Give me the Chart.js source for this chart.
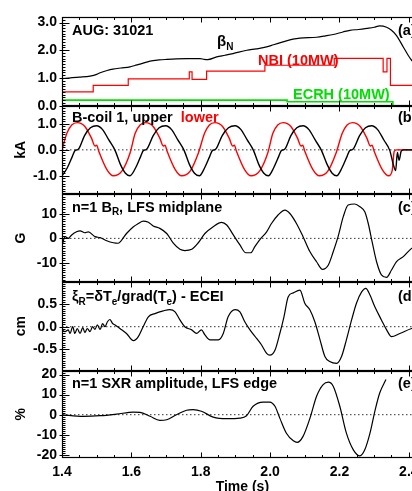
<!DOCTYPE html>
<html>
<head>
<meta charset="utf-8">
<script src="https://cdn.jsdelivr.net/npm/chart.js@4/dist/chart.umd.min.js"></script>
<style>
  html, body { margin: 0; padding: 0; background: #fff; }
  #wrap { position: relative; width: 412px; height: 491px; overflow: hidden; background: #fff; }
  #wrap canvas { position: absolute; left: 0; top: 0; }
</style>
</head>
<body>
<div id="wrap">
  <canvas id="ca" width="440" height="496"></canvas>
  <canvas id="cb" width="440" height="496"></canvas>
  <canvas id="cc" width="440" height="496"></canvas>
  <canvas id="cd" width="440" height="496"></canvas>
  <canvas id="ce" width="440" height="496"></canvas>
</div>
<script>
// ---------------- DATA ----------------
const xMajorTicks = [1.4, 1.6, 1.8, 2.0, 2.2, 2.4];
const xTickLabels = ['1.4', '1.6', '1.8', '2.0', '2.2', '2.4'];

// Panel (a): beta_N, NBI power, ECRH power (10 MW units)
const betaT = [1.400,1.420,1.450,1.481,1.500,1.510,1.530,1.547,1.570,1.596,1.610,1.625,1.654,1.680,1.702,1.730,1.760,1.798,1.810,1.820,1.846,1.870,1.893,1.933,1.960,1.990,2.010,2.037,2.066,2.086,2.134,2.160,2.182,2.210,2.230,2.255,2.279,2.300,2.316,2.336,2.350,2.364,2.384,2.398,2.408,2.425];
const betaV = [0.98,1.00,1.03,1.07,1.13,1.19,1.27,1.32,1.36,1.40,1.45,1.50,1.61,1.65,1.67,1.69,1.70,1.70,1.67,1.66,1.76,1.82,1.88,2.00,2.05,2.12,2.20,2.30,2.40,2.44,2.47,2.52,2.57,2.66,2.72,2.75,2.79,2.83,2.88,2.83,2.72,2.54,2.12,1.82,1.64,1.45];
const nbiT = [1.400,1.490,1.591,1.767,1.775,1.817,1.985,2.185,2.326,2.337,2.347,2.440];
const nbiV = [0.50,0.73,0.97,1.22,0.95,1.25,1.46,1.71,1.22,1.71,0.73,0.73];
const ecrhT = [1.400,2.049,2.354,2.440];
const ecrhV = [0.20,0.14,0.00,0.00];
const aTicks = [0, 1, 2, 3];
const aTickLabels = ['0.0', '1.0', '2.0', '3.0'];

// Panel (b): B-coil currents (kA)
const coilUpT = [1.400,1.415,1.430,1.438,1.444,1.450,1.465,1.482,1.500,1.517,1.535,1.553,1.568,1.583,1.596,1.612,1.627,1.635,1.641,1.647,1.663,1.680,1.699,1.716,1.734,1.752,1.767,1.782,1.796,1.811,1.826,1.834,1.840,1.846,1.862,1.880,1.899,1.916,1.934,1.952,1.967,1.982,1.995,2.010,2.025,2.033,2.039,2.045,2.060,2.077,2.095,2.112,2.130,2.148,2.164,2.179,2.192,2.207,2.222,2.230,2.236,2.242,2.258,2.275,2.293,2.310,2.328,2.345,2.355,2.362,2.367,2.372,2.378,2.385,2.440];
const coilUpV = [-1.00,-0.70,-0.25,-0.02,0.00,0.08,0.55,0.85,0.93,0.78,0.38,-0.02,-0.55,-0.90,-1.00,-0.70,-0.25,-0.02,0.00,0.08,0.55,0.85,0.93,0.78,0.38,-0.02,-0.55,-0.90,-1.00,-0.70,-0.25,-0.02,0.00,0.08,0.55,0.85,0.93,0.78,0.38,-0.02,-0.55,-0.90,-1.00,-0.70,-0.25,-0.02,0.00,0.08,0.55,0.85,0.93,0.78,0.38,-0.02,-0.55,-0.90,-1.00,-0.70,-0.25,-0.02,0.00,0.08,0.55,0.85,0.93,0.78,0.38,-0.02,-0.55,-0.80,-0.10,-0.40,-0.05,0.00,0.00];
const coilLowT = [1.400,1.414,1.428,1.444,1.466,1.485,1.495,1.500,1.506,1.529,1.548,1.572,1.596,1.611,1.625,1.641,1.663,1.682,1.692,1.697,1.703,1.726,1.745,1.769,1.793,1.811,1.825,1.841,1.863,1.882,1.892,1.897,1.903,1.926,1.945,1.969,1.993,2.008,2.022,2.038,2.060,2.079,2.089,2.094,2.100,2.123,2.142,2.166,2.190,2.208,2.222,2.238,2.260,2.279,2.289,2.294,2.300,2.323,2.342,2.352,2.358,2.365,2.440];
const coilLowV = [0.00,0.64,0.96,1.05,0.90,0.45,0.15,0.18,-0.05,-0.75,-1.00,-0.83,-0.13,0.64,0.96,1.05,0.90,0.45,0.15,0.18,-0.05,-0.75,-1.00,-0.83,-0.13,0.64,0.96,1.05,0.90,0.45,0.15,0.18,-0.05,-0.75,-1.00,-0.83,-0.13,0.64,0.96,1.05,0.90,0.45,0.15,0.18,-0.05,-0.75,-1.00,-0.83,-0.13,0.64,0.96,1.05,0.90,0.45,0.15,0.18,-0.05,-0.75,-1.00,-0.80,-0.05,0.00,0.00];
const bTicks = [-1, 0, 1];
const bTickLabels = ['-1.0', '0.0', '1.0'];

// Panel (c): n=1 B_R (G)
const brT = [1.400,1.409,1.418,1.428,1.442,1.452,1.466,1.476,1.495,1.510,1.529,1.548,1.562,1.572,1.586,1.606,1.620,1.634,1.649,1.663,1.682,1.702,1.721,1.740,1.754,1.774,1.793,1.812,1.836,1.860,1.875,1.894,1.913,1.930,1.944,1.956,1.971,1.990,2.004,2.023,2.043,2.057,2.076,2.095,2.115,2.134,2.151,2.168,2.182,2.196,2.211,2.225,2.244,2.259,2.273,2.283,2.295,2.307,2.321,2.336,2.350,2.364,2.384,2.408,2.440];
const brV = [-3.0,0.7,0.0,1.4,2.7,3.1,2.3,2.7,0.7,0.3,-1.0,-1.8,-2.0,-0.7,2.0,4.8,6.1,7.1,6.6,5.1,4.1,2.0,-2.0,-4.5,-5.0,-4.5,-1.8,2.0,4.8,6.6,5.5,1.4,-2.7,-5.9,-5.9,-3.4,-0.4,2.7,6.1,9.6,11.6,10.2,6.1,0.7,-5.5,-9.6,-12.7,-10.9,-5.5,0.7,8.9,13.7,14.1,13.0,10.9,6.1,-2.0,-9.6,-15.0,-16.0,-13.0,-9.6,-7.5,-4.1,-2.0];
const cTicks = [-10, 0, 10];
const cTickLabels = ['-10', '0', '10'];

// Panel (d): xi_R from ECEI (cm)
const xiT = [1.399,1.409,1.418,1.423,1.431,1.437,1.444,1.452,1.460,1.466,1.473,1.481,1.488,1.495,1.502,1.510,1.517,1.524,1.531,1.538,1.546,1.553,1.567,1.586,1.606,1.620,1.634,1.649,1.668,1.692,1.711,1.726,1.740,1.754,1.774,1.788,1.802,1.812,1.827,1.851,1.865,1.879,1.899,1.913,1.927,1.942,1.961,1.975,1.990,1.999,2.014,2.028,2.040,2.052,2.067,2.086,2.100,2.115,2.129,2.144,2.158,2.172,2.192,2.206,2.220,2.235,2.249,2.264,2.276,2.288,2.302,2.321,2.336,2.350,2.374,2.408,2.440];
const xiV = [-0.07,-0.11,-0.07,-0.15,0.00,-0.15,-0.04,-0.15,-0.02,-0.13,-0.04,-0.11,0.00,-0.06,0.04,-0.06,0.07,0.00,0.11,0.16,0.07,0.04,-0.04,-0.15,-0.31,-0.22,0.00,0.22,0.29,0.35,0.38,0.33,0.15,0.00,-0.07,-0.15,-0.07,-0.18,-0.29,-0.29,-0.15,0.22,0.38,0.33,0.11,-0.07,-0.26,-0.40,-0.59,-0.63,-0.52,-0.15,0.22,0.66,0.75,0.81,0.52,0.37,0.11,-0.29,-0.66,-0.77,-0.81,-0.66,-0.29,0.15,0.52,0.77,0.85,0.70,0.44,0.15,-0.07,-0.22,-0.15,-0.04,0.02];
const dTicks = [-0.5, 0, 0.5];
const dTickLabels = ['-0.5', '0.0', '0.5'];

// Panel (e): n=1 SXR amplitude (%)
const sxrT = [1.399,1.461,1.510,1.558,1.606,1.625,1.654,1.682,1.702,1.730,1.759,1.778,1.802,1.836,1.875,1.913,1.932,1.951,1.980,1.999,2.014,2.028,2.047,2.067,2.078,2.095,2.115,2.134,2.153,2.168,2.182,2.201,2.220,2.240,2.259,2.273,2.288,2.302,2.316,2.334];
const sxrV = [0.0,-0.8,-0.5,0.3,1.3,1.2,-0.8,-2.8,-2.5,0.0,2.2,2.5,1.7,-1.2,-2.0,-1.7,-0.5,4.2,6.3,6.3,4.2,-1.7,-9.2,-13.0,-13.8,-10.8,-1.7,9.2,15.0,16.2,14.2,4.2,-9.2,-17.5,-20.5,-17.5,-9.2,1.7,10.8,17.5];
const eTicks = [-20, -10, 0, 10, 20];
const eTickLabels = ['-20', '-10', '0', '10', '20'];

// ---------------- HELPERS ----------------
const FAM = '"Liberation Sans", Arial, Helvetica, sans-serif';
const pts = (t, v) => t.map((x, i) => ({x, y: v[i]}));
const zeroLine = () => ({data: pts([1.4, 2.44], [0, 0]), borderColor: '#333', borderWidth: 1,
  borderDash: [1.5, 2.5], pointRadius: 0, order: 10});

const frameTicks = {
  id: 'frameTicks',
  afterDatasetsDraw(chart, args, opts) {
    const {ctx, chartArea: a} = chart;
    const x = chart.scales.x, y = chart.scales.y;
    const L = Math.round(a.left) + 0.5, R = Math.round(a.right) - 0.5;
    const T = Math.round(a.top) + 0.5, B = Math.round(a.bottom) - 0.5;
    ctx.save();
    ctx.strokeStyle = '#000';
    ctx.lineWidth = 1;
    ctx.beginPath();
    for (let k = 0; ; k++) {
      const v = 1.4 + k * 0.05;
      if (v > x.max + 1e-9) break;
      const px = Math.round(x.getPixelForValue(v)) + 0.5;
      const major = k % 4 === 0;
      const len = major ? 5 : 2.5;
      ctx.moveTo(px, B); ctx.lineTo(px, B - len);
      ctx.moveTo(px, T); ctx.lineTo(px, T + len);
    }
    const step = opts.minor;
    const start = Math.ceil((y.min - 1e-9) / step);
    for (let k = start; k * step <= y.max + 1e-9; k++) {
      const v = k * step;
      const py = Math.round(y.getPixelForValue(v)) + 0.5;
      const major = opts.majors.some(m => Math.abs(m - v) < step / 10);
      if (major) { ctx.moveTo(L - 3, py); ctx.lineTo(L + 7, py); ctx.moveTo(R, py); ctx.lineTo(R - 7, py); }
      else { ctx.moveTo(L, py); ctx.lineTo(L + 3, py); ctx.moveTo(R, py); ctx.lineTo(R - 3, py); }
    }
    ctx.stroke();
    ctx.lineWidth = 1.2;
    ctx.strokeRect(L, T, R - L, B - T);
    ctx.restore();
  }
};

const panelText = {
  id: 'panelText',
  afterDraw(chart, args, opts) {
    const {ctx, chartArea: a} = chart;
    ctx.save();
    ctx.textBaseline = 'alphabetic';
    ctx.textAlign = 'left';
    for (const it of (opts.items || [])) {
      let x = a.left + it.dx;
      const y = a.top + it.dy;
      for (const s of it.segs) {
        const sub = !!s.sub;
        ctx.font = 'bold ' + (sub ? 10 : (s.size || 14.5)) + 'px ' + FAM;
        ctx.fillStyle = s.color || it.color || '#000';
        ctx.fillText(s.t, x, sub ? y + 3.5 : y);
        x += ctx.measureText(s.t).width;
      }
    }
    ctx.restore();
  }
};

const W = 440, H = 496;
const X_RIGHT = 422.7;

function makeChart(id, cfg) {
  const isBottom = !!cfg.bottom;
  const datasets = cfg.datasets.map(d => Object.assign({pointRadius: 0, borderWidth: 1.2,
    fill: false, cubicInterpolationMode: 'monotone'}, d));
  return new Chart(document.getElementById(id), {
    type: 'line',
    data: {datasets},
    plugins: [frameTicks, panelText],
    options: {
      responsive: false,
      animation: false,
      events: [],
      layout: {padding: {left: 0, right: W - X_RIGHT, top: cfg.top, bottom: isBottom ? 0 : H - cfg.bottomPx}},
      plugins: {
        legend: {display: false},
        tooltip: {enabled: false},
        frameTicks: {minor: cfg.minor, majors: cfg.ticks},
        panelText: {items: cfg.texts}
      },
      scales: {
        x: {
          type: 'linear', min: 1.4, max: 2.44,
          display: isBottom,
          afterBuildTicks: (ax) => { ax.ticks = xMajorTicks.map(v => ({value: v})); },
          afterFit: (ax) => { ax.height = isBottom ? H - cfg.bottomPx : 0; },
          grid: {display: false, drawTicks: false},
          border: {display: false},
          ticks: {color: '#000', font: {family: FAM, size: 14, weight: 'bold'}, padding: 5,
            maxRotation: 0, autoSkip: false, callback: (v, i) => xTickLabels[i]},
          title: {display: isBottom, text: 'Time (s)', color: '#000',
            font: {family: FAM, size: 14, weight: 'bold'}, padding: {top: 0, bottom: 0}}
        },
        y: {
          type: 'linear', min: cfg.min, max: cfg.max,
          afterBuildTicks: (ax) => { ax.ticks = cfg.ticks.map(v => ({value: v})); },
          afterFit: (ax) => { ax.width = 62; },
          grid: {display: false, drawTicks: false},
          border: {display: false},
          ticks: {color: '#000', font: {family: FAM, size: 14, weight: 'bold'}, padding: 5,
            autoSkip: false, callback: (v, i) => cfg.labels[i]},
          title: {display: !!cfg.ytitle, text: cfg.ytitle || '', color: '#000',
            font: {family: FAM, size: 14, weight: 'bold'}, padding: {top: 13, bottom: 0}}
        }
      }
    }
  });
}

// ---------------- PANELS ----------------
makeChart('ca', {
  top: 17, bottomPx: 105.7, min: 0, max: 3.2, ticks: aTicks, labels: aTickLabels, minor: 0.1,
  datasets: [
    {data: pts(ecrhT, ecrhV), borderColor: '#00e000', borderWidth: 1.6, stepped: 'before'},
    {data: pts(nbiT, nbiV), borderColor: '#ff0000', borderWidth: 1.2, stepped: 'before'},
    {data: pts(betaT, betaV), borderColor: '#000', borderWidth: 1.2}
  ],
  texts: [
    {dx: 10, dy: 18, segs: [{t: 'AUG: 31021'}]},
    {dx: 155, dy: 29, segs: [{t: 'β', size: 15}, {t: 'N', sub: true}]},
    {dx: 196, dy: 48, color: '#ff0000', segs: [{t: 'NBI (10MW)'}]},
    {dx: 231, dy: 82, color: '#00e000', segs: [{t: 'ECRH (10MW)'}]},
    {dx: 336, dy: 18, segs: [{t: '(a)'}]}
  ]
});

makeChart('cb', {
  top: 105.7, bottomPx: 194, min: -1.7, max: 1.7, ticks: bTicks, labels: bTickLabels, minor: 0.1,
  ytitle: 'kA',
  datasets: [
    zeroLine(),
    {data: pts(coilUpT, coilUpV), borderColor: '#000', borderWidth: 1.4},
    {data: pts(coilLowT, coilLowV), borderColor: '#ff0000', borderWidth: 1.4}
  ],
  texts: [
    {dx: 10, dy: 16, segs: [{t: 'B-coil 1, upper  '}, {t: 'lower', color: '#ff0000'}]},
    {dx: 336, dy: 16, segs: [{t: '(b)'}]}
  ]
});

makeChart('cc', {
  top: 194, bottomPx: 282, min: -17.9, max: 18.2, ticks: cTicks, labels: cTickLabels, minor: 1,
  ytitle: 'G',
  datasets: [
    zeroLine(),
    {data: pts(brT, brV), borderColor: '#000', borderWidth: 1.2}
  ],
  texts: [
    {dx: 10, dy: 17.5, segs: [{t: 'n=1 B'}, {t: 'R', sub: true}, {t: ', LFS midplane'}]},
    {dx: 336, dy: 17.5, segs: [{t: '(c)'}]}
  ]
});

makeChart('cd', {
  top: 282, bottomPx: 370.5, min: -0.97, max: 0.99, ticks: dTicks, labels: dTickLabels, minor: 0.05,
  ytitle: 'cm',
  datasets: [
    zeroLine(),
    {data: pts(xiT, xiV), borderColor: '#000', borderWidth: 1.2}
  ],
  texts: [
    {dx: 10, dy: 19, segs: [{t: 'ξ'}, {t: 'R', sub: true}, {t: '=δT'}, {t: 'e', sub: true},
      {t: '/grad(T'}, {t: 'e', sub: true}, {t: ') - ECEI'}]},
    {dx: 336, dy: 19, segs: [{t: '(d)'}]}
  ]
});

makeChart('ce', {
  top: 370.5, bottomPx: 458.3, bottom: true, min: -21.7, max: 22, ticks: eTicks, labels: eTickLabels, minor: 1,
  ytitle: '%',
  datasets: [
    zeroLine(),
    {data: pts(sxrT, sxrV), borderColor: '#000', borderWidth: 1.2}
  ],
  texts: [
    {dx: 10, dy: 17.5, segs: [{t: 'n=1 SXR amplitude, LFS edge'}]},
    {dx: 336, dy: 17.5, segs: [{t: '(e)'}]}
  ]
});
</script>
</body>
</html>
